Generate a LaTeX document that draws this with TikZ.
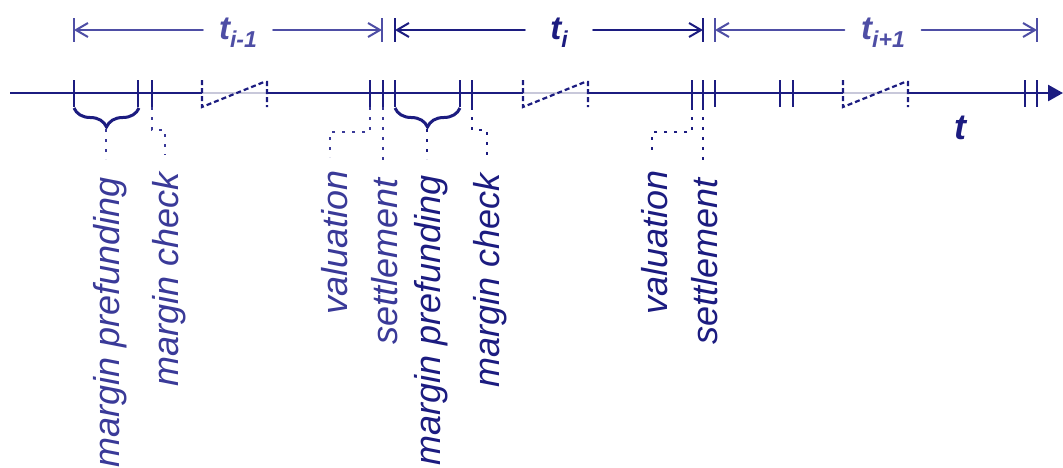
\documentclass[tikz,border=0pt]{standalone}
\usepackage{fontspec}
\setmainfont{Liberation Sans}
\usetikzlibrary{arrows.meta,decorations.pathreplacing}
\definecolor{navy}{RGB}{28,28,128}
\definecolor{paleblue}{RGB}{78,78,165}
\definecolor{labelblue}{RGB}{58,58,152}
\definecolor{breakgray}{RGB}{200,200,218}

\newcommand{\tper}[1]{\fontsize{33}{33}\selectfont\bfseries\itshape t\raisebox{-8pt}{\fontsize{23}{23}\selectfont #1}}

\tikzset{
  axisline/.style={navy, line width=2.6pt},
  tickmark/.style={navy, line width=2.2pt},
  breakline/.style={navy, line width=2.2pt, dash pattern=on 5pt off 3pt},
  dimline/.style={line width=2pt, line cap=round, -{Straight Barb[length=12pt,width=14pt]}},
  dimtick/.style={line width=1.8pt},
  leader/.style={line width=2.6pt, dash pattern=on 3pt off 7pt},
  evlabel/.style={rotate=90, anchor=east, inner sep=0pt, font=\fontsize{36}{40}\selectfont\itshape},
  bracket/.style={navy, line width=3pt, decorate, decoration={brace, mirror, amplitude=19pt}},
  perlabel/.style={inner sep=0pt, minimum height=30pt}
}

\begin{document}
\begin{tikzpicture}[x=1pt,y=1pt]
        \useasboundingbox (0,0) rectangle (1063,-467);
        % period lengths
        \coordinate (d0) at (74,-30);
        \coordinate (d1) at (382,-30);
        \coordinate (d2) at (395,-30);
        \coordinate (d3) at (703,-30);
        \coordinate (d4) at (715,-30);
        \coordinate (d5) at (1037,-30);
        \node [perlabel, paleblue, minimum width=70pt] (tprev) at (238,-33) {\tper{i-1}};
        \node [perlabel, navy, minimum width=68pt] (tcur) at (559,-33) {\tper{i}};
        \node [perlabel, paleblue, minimum width=77pt] (tnext) at (883,-33) {\tper{i+1}};
        \draw [dimtick, paleblue] (74,-18) -- (74,-42) (382,-18) -- (382,-42);
        \draw [dimtick, navy] (395,-18) -- (395,-42) (703,-18) -- (703,-42);
        \draw [dimtick, paleblue] (715,-18) -- (715,-42) (1037,-18) -- (1037,-42);
        \draw [dimline, paleblue] (tprev.west |- d0) -- (d0);
        \draw [dimline, paleblue] (tprev.east |- d1) -- (d1);
        \draw [dimline, navy] (tcur.west |- d2) -- (d2);
        \draw [dimline, navy] (tcur.east |- d3) -- (d3);
        \draw [dimline, paleblue] (tnext.west |- d4) -- (d4);
        \draw [dimline, paleblue] (tnext.east |- d5) -- (d5);
        % time axis
        \coordinate (a0) at (10,-93);
        \coordinate (b1l) at (202,-93);
        \coordinate (b1r) at (267,-93);
        \coordinate (b2l) at (523,-93);
        \coordinate (b2r) at (588,-93);
        \coordinate (b3l) at (843,-93);
        \coordinate (b3r) at (908,-93);
        \coordinate (aend) at (1063,-93);
        \draw [breakgray, line width=1.5pt] (b1l) -- (b1r) (b2l) -- (b2r) (b3l) -- (b3r);
        \draw [axisline] (a0) -- (b1l);
        \draw [axisline] (b1r) -- (b2l);
        \draw [axisline] (b2r) -- (b3l);
        \draw [axisline, -{Triangle[length=15pt,width=16pt]}] (b3r) -- (aend);
        \draw [breakline] (202,-80) -- (202,-107) -- (264,-82) -- (267,-82) -- (267,-107);
        \draw [breakline] (523,-80) -- (523,-107) -- (585,-82) -- (588,-82) -- (588,-107);
        \draw [breakline] (843,-80) -- (843,-107) -- (905,-82) -- (908,-82) -- (908,-107);
        \draw [tickmark] (74,-80) -- (74,-107) (138,-80) -- (138,-107) (152,-80) -- (152,-107)
                (370,-80) -- (370,-107) (383,-80) -- (383,-107) (395,-80) -- (395,-107)
                (460,-80) -- (460,-107) (472,-80) -- (472,-107) (692,-80) -- (692,-107)
                (703,-80) -- (703,-107) (715,-80) -- (715,-107) (780,-80) -- (780,-107)
                (793,-80) -- (793,-107) (1025,-80) -- (1025,-107) (1037,-80) -- (1037,-107);
        \node [font=\fontsize{36}{40}\selectfont\bfseries\itshape, navy] (taxis) at (960,-128) {t};
        % period i-1
        \draw [bracket] (74,-108) -- (139,-108);
        \coordinate (pf1) at (106,-129);
        \coordinate (mc1) at (152,-107);
        \coordinate (va1) at (370,-107);
        \coordinate (se1) at (383,-107);
        \node [evlabel, labelblue] (lpf1) at (110,-177) {margin prefunding};
        \node [evlabel, labelblue] (lmc1) at (169,-172) {margin check};
        \node [evlabel, labelblue] (lva1) at (335,-170) {valuation};
        \node [evlabel, labelblue] (lse1) at (385,-178) {settlement};
        \draw [leader, labelblue] (pf1) -- ++(0,-30);
        \draw [leader, labelblue] (mc1) -- ++(0,-23) -- ++(13,0) -- ++(0,-25);
        \draw [leader, labelblue] (va1) -- ++(0,-25) -- ++(-40,0) -- ++(0,-25);
        \draw [leader, labelblue] (se1) -- ++(0,-56);
        % period i
        \draw [bracket] (395,-108) -- (460,-108);
        \coordinate (pf2) at (427,-129);
        \coordinate (mc2) at (472,-107);
        \coordinate (va2) at (692,-107);
        \coordinate (se2) at (703,-107);
        \node [evlabel, navy] (lpf2) at (431,-175) {margin prefunding};
        \node [evlabel, navy] (lmc2) at (490,-173) {margin check};
        \node [evlabel, navy] (lva2) at (655,-170) {valuation};
        \node [evlabel, navy] (lse2) at (705,-178) {settlement};
        \draw [leader, navy] (pf2) -- ++(0,-30);
        \draw [leader, navy] (mc2) -- ++(0,-23) -- ++(15,0) -- ++(0,-25);
        \draw [leader, navy] (va2) -- ++(0,-25) -- ++(-40,0) -- ++(0,-25);
        \draw [leader, navy] (se2) -- ++(0,-56);
\end{tikzpicture}
\end{document}
